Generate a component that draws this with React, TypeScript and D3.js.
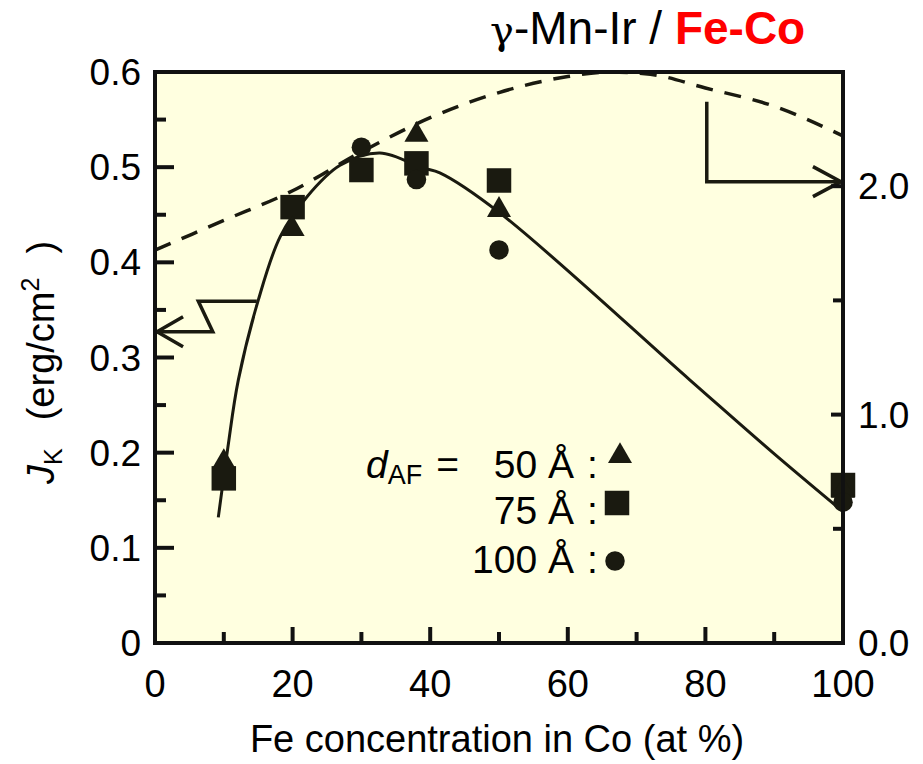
import React from 'react';
import * as d3 from 'd3';

// Fe concentration (at %) for each marker series
const triX = [10, 20, 38, 50, 100];
const triY = [0.19, 0.435, 0.534, 0.455, 0.16];
const sqX = [10, 20, 30, 38, 50, 100];
const sqY = [0.173, 0.458, 0.497, 0.504, 0.486, 0.166];
const circX = [30, 38, 50, 100];
const circY = [0.521, 0.487, 0.413, 0.148];

// solid guide line (left axis, J_K)
const fitX = [9.2, 10.6, 12.1, 15.0, 18.2, 22.1, 26.9, 32.7, 39.0, 41.4, 50.1, 77.8, 89.8, 100];
const fitY = [0.132, 0.206, 0.276, 0.36, 0.427, 0.469, 0.502, 0.515, 0.499, 0.494, 0.452, 0.276, 0.2, 0.138];

// dashed curve (right axis)
const dashX = [0, 10, 20, 30, 40, 50, 60, 66, 72, 80, 90, 100];
const dashY = [1.72, 1.85, 1.98, 2.15, 2.3, 2.41, 2.48, 2.5, 2.49, 2.43, 2.35, 2.22];

const xTicks = [0, 20, 40, 60, 80, 100];
const xMinor = [10, 30, 50, 70, 90];
const yTicks = [0, 0.1, 0.2, 0.3, 0.4, 0.5, 0.6];
const yTickLabels = ['0', '0.1', '0.2', '0.3', '0.4', '0.5', '0.6'];
const yMinor = [0.05, 0.15, 0.25, 0.35, 0.45, 0.55];
const rTicks = [0, 1, 2];
const rTickLabels = ['0.0', '1.0', '2.0'];
const rMinor = [0.5, 1.5];

const legendLabels = ['50 Å', '75 Å', '100 Å'];

// annotation arrows: [x, y] in data units
const leftArrow: [number, number][] = [[14.8, 0.359], [6.3, 0.359], [8.4, 0.327], [0.3, 0.327]];
const rightArrow: [number, number][] = [[80.2, 2.37], [80.2, 2.02], [99.7, 2.02]];

const font = '"Liberation Sans", Arial, sans-serif';
const ink = '#1a1a10';

const App = () => {
  const x = d3.scaleLinear().domain([0, 100]).range([155, 843]);
  const y = d3.scaleLinear().domain([0, 0.6]).range([643, 72]);
  const yR = d3.scaleLinear().domain([0, 2.5]).range([643, 72]);

  const fitLine = d3.line<number>()
    .x((_, i) => x(fitX[i]))
    .y(d => y(d))
    .curve(d3.curveCatmullRom);
  const dashLine = d3.line<number>()
    .x((_, i) => x(dashX[i]))
    .y(d => yR(d))
    .curve(d3.curveMonotoneX);

  const tri = d3.symbol(d3.symbolTriangle, 250)();
  const sq = d3.symbol(d3.symbolSquare, 600)();
  const circ = d3.symbol(d3.symbolCircle, 300)();

  const la = leftArrow.map(([a, b]) => [x(a), y(b)]);
  const ra = rightArrow.map(([a, b]) => [x(a), yR(b)]);
  const lTip = la[la.length - 1];
  const rTip = ra[ra.length - 1];

  return (
    <svg width={923} height={764} style={{ position: 'absolute', left: 0, top: 0, background: '#fff' }}
      fontFamily={font}>
      <rect x={x(0)} y={y(0.6)} width={x(100) - x(0)} height={y(0) - y(0.6)} fill="#ffffe0" />

      {/* dashed curve */}
      <path d={dashLine(dashY) || ''} fill="none" stroke={ink} strokeWidth={3.5} strokeDasharray="17 12" />
      {/* solid fit */}
      <path d={fitLine(fitY) || ''} fill="none" stroke={ink} strokeWidth={3} />

      {/* markers */}
      {sqX.map((v, i) => (
        <path key={'s' + i} d={sq || ''} transform={`translate(${x(v)},${y(sqY[i])})`} fill={ink} />
      ))}
      {triX.map((v, i) => (
        <path key={'t' + i} d={tri || ''} transform={`translate(${x(v)},${y(triY[i])})`} fill={ink} />
      ))}
      {circX.map((v, i) => (
        <path key={'c' + i} d={circ || ''} transform={`translate(${x(v)},${y(circY[i])})`} fill={ink} />
      ))}

      {/* arrows */}
      <polyline points={la.map(p => p.join(',')).join(' ')} fill="none" stroke={ink} strokeWidth={3.5} />
      <polyline points={`${lTip[0] + 26},${lTip[1] - 15} ${lTip[0]},${lTip[1]} ${lTip[0] + 26},${lTip[1] + 15}`}
        fill="none" stroke={ink} strokeWidth={3.5} />
      <polyline points={ra.map(p => p.join(',')).join(' ')} fill="none" stroke={ink} strokeWidth={3.5} />
      <polyline points={`${rTip[0] - 28},${rTip[1] - 15} ${rTip[0]},${rTip[1]} ${rTip[0] - 28},${rTip[1] + 15}`}
        fill="none" stroke={ink} strokeWidth={3.5} />

      {/* frame */}
      <rect x={x(0)} y={y(0.6)} width={x(100) - x(0)} height={y(0) - y(0.6)} fill="none" stroke="#111" strokeWidth={4} />

      {/* x ticks */}
      {xTicks.map(t => (
        <g key={'xt' + t}>
          <line x1={x(t)} x2={x(t)} y1={y(0)} y2={y(0) - 16} stroke="#111" strokeWidth={4} />
          <text x={x(t)} y={697} textAnchor="middle" fontSize={38}>{t}</text>
        </g>
      ))}
      {xMinor.map(t => (
        <line key={'xm' + t} x1={x(t)} x2={x(t)} y1={y(0)} y2={y(0) - 11} stroke="#111" strokeWidth={4} />
      ))}

      {/* left ticks */}
      {yTicks.map((t, i) => (
        <g key={'yt' + t}>
          <line x1={x(0)} x2={x(0) + 19} y1={y(t)} y2={y(t)} stroke="#111" strokeWidth={4} />
          <text x={141} y={y(t) + 13} textAnchor="end" fontSize={37}>{yTickLabels[i]}</text>
        </g>
      ))}
      {yMinor.map(t => (
        <line key={'ym' + t} x1={x(0)} x2={x(0) + 11} y1={y(t)} y2={y(t)} stroke="#111" strokeWidth={4} />
      ))}

      {/* right ticks */}
      {rTicks.map((t, i) => (
        <g key={'rt' + t}>
          <line x1={x(100)} x2={x(100) - 12} y1={yR(t)} y2={yR(t)} stroke="#111" strokeWidth={4} />
          <text x={858} y={yR(t) + 13} fontSize={37}>{rTickLabels[i]}</text>
        </g>
      ))}
      {rMinor.map(t => (
        <line key={'rm' + t} x1={x(100)} x2={x(100) - 10} y1={yR(t)} y2={yR(t)} stroke="#111" strokeWidth={4} />
      ))}

      {/* axis titles */}
      <text x={497} y={752} textAnchor="middle" fontSize={38}>Fe concentration in Co (at %)</text>
      <text transform="translate(54,484) rotate(-90)" fontSize={38}>
        <tspan fontStyle="italic">J</tspan>
        <tspan fontSize={25} dy={8}>K</tspan>
        <tspan dy={-8} dx={28}>(erg/cm</tspan>
        <tspan fontSize={25} dy={-15}>2</tspan>
        <tspan dy={15} dx={24}>)</tspan>
      </text>

      {/* title */}
      <text x={490} y={44} fontSize={46}>
        <tspan fontFamily='"DejaVu Serif", serif' fontSize={40}>γ</tspan>
        <tspan>-Mn-Ir / </tspan>
        <tspan fill="#ff0000" fontWeight="bold">Fe-Co</tspan>
      </text>

      {/* legend */}
      <text x={366} y={478} fontSize={39}>
        <tspan fontStyle="italic">d</tspan>
        <tspan fontSize={27} dy={6}>AF</tspan>
        <tspan dy={-6} dx={14}>=</tspan>
      </text>
      {legendLabels.map((l, i) => (
        <g key={l}>
          <text x={574} y={478 + i * 46 + (i === 2 ? 3 : 0)} textAnchor="end" fontSize={39}>{l}</text>
          <text x={587} y={478 + i * 46 + (i === 2 ? 3 : 0)} fontSize={39}>:</text>
        </g>
      ))}
      <path d={tri || ''} transform="translate(620,456)" fill={ink} />
      <path d={sq || ''} transform="translate(617,503)" fill={ink} />
      <path d={circ || ''} transform="translate(615,561)" fill={ink} />
    </svg>
  );
};

export default App;
